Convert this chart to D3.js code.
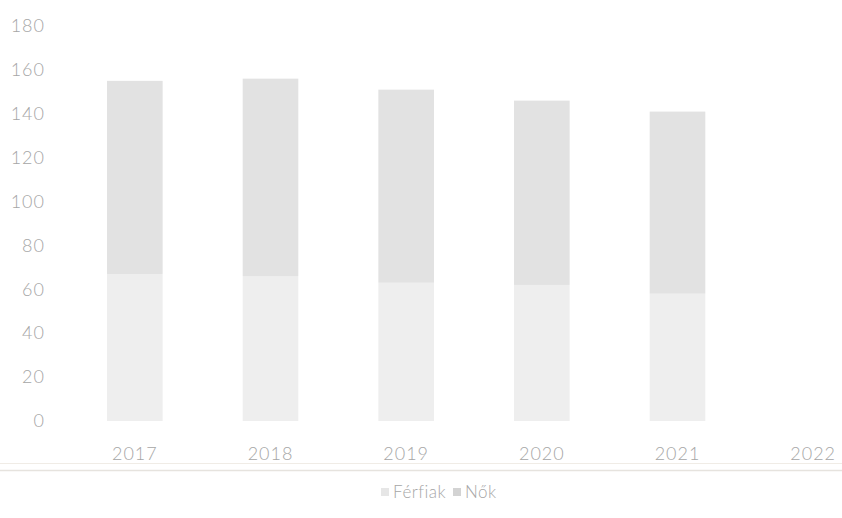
<!DOCTYPE html>
<html>
<head>
<meta charset="utf-8">
<script src="https://cdn.jsdelivr.net/npm/d3@7"></script>
<style>
  html, body { margin: 0; padding: 0; background: #ffffff; }
  svg { display: block; }
  text { font-family: "Lato", "Open Sans", sans-serif; font-weight: 300; }
</style>
</head>
<body>
<svg id="chart" width="842" height="518"></svg>
<script>
const categories = ["2017", "2018", "2019", "2020", "2021", "2022"];
const ferfiak = [67, 66, 63, 62, 58, null];
const nok = [88, 90, 88, 84, 83, null];
const seriesNames = ["Férfiak", "Nők"];
const yTicks = [0, 20, 40, 60, 80, 100, 120, 140, 160, 180];

const colors = { "Férfiak": "#eeeeee", "Nők": "#e2e2e2" };
const textColor = "#a6a6a6";

const svg = d3.select("#chart");
const W = 842, H = 518;

const x = d3.scaleBand().domain(categories).range([67, 881]).paddingInner(0.59).paddingOuter(0.295);
const y = d3.scaleLinear().domain([0, 180]).range([421, 26]);

const rows = categories.map((c, i) => ({ cat: c, "Férfiak": ferfiak[i] || 0, "Nők": nok[i] || 0 }));
const stacked = d3.stack().keys(seriesNames)(rows);

// Y axis labels
const yAxis = d3.axisLeft(y).tickValues(yTicks).tickSize(0).tickPadding(0);
const yg = svg.append("g").attr("transform", "translate(45,0)").call(yAxis);
yg.select(".domain").remove();
yg.selectAll("text").attr("fill", textColor).style("font-size", "18px").style("letter-spacing", "1px");

// Bars
svg.append("g").selectAll("g").data(stacked).join("g")
  .attr("fill", d => colors[d.key])
  .selectAll("rect").data(d => d.filter(p => p[1] > p[0])).join("rect")
  .attr("x", d => x(d.data.cat))
  .attr("y", d => y(d[1]))
  .attr("width", x.bandwidth())
  .attr("height", d => y(d[0]) - y(d[1]));

// X axis labels
const xAxis = d3.axisBottom(x).tickSize(0).tickPadding(0);
const xg = svg.append("g").attr("transform", "translate(0,447)").call(xAxis);
xg.select(".domain").remove();
xg.selectAll("text").attr("fill", textColor).style("font-size", "18px").style("letter-spacing", "1px");

// Separator lines (chart frame edge)
svg.append("line").attr("x1", 0).attr("x2", W).attr("y1", 463.5).attr("y2", 463.5)
  .attr("stroke", "#f0ece6").attr("stroke-width", 1);
svg.append("line").attr("x1", 0).attr("x2", W).attr("y1", 470.5).attr("y2", 470.5)
  .attr("stroke", "#e6e3de").attr("stroke-width", 1.5);

// Legend
const legend = svg.append("g").attr("transform", "translate(381,492)");
const items = [{ name: "Férfiak", x: 0 }, { name: "Nők", x: 72 }];
items.forEach(it => {
  legend.append("rect").attr("x", it.x).attr("y", -4).attr("width", 8).attr("height", 8)
    .attr("fill", it.name === "Férfiak" ? "#e6e6e6" : "#d3d3d3");
  legend.append("text").attr("x", it.x + 12).attr("y", 0).attr("dy", "0.35em")
    .attr("fill", textColor).style("font-size", "17px").style("letter-spacing", "0.5px").text(it.name);
});
</script>
</body>
</html>
